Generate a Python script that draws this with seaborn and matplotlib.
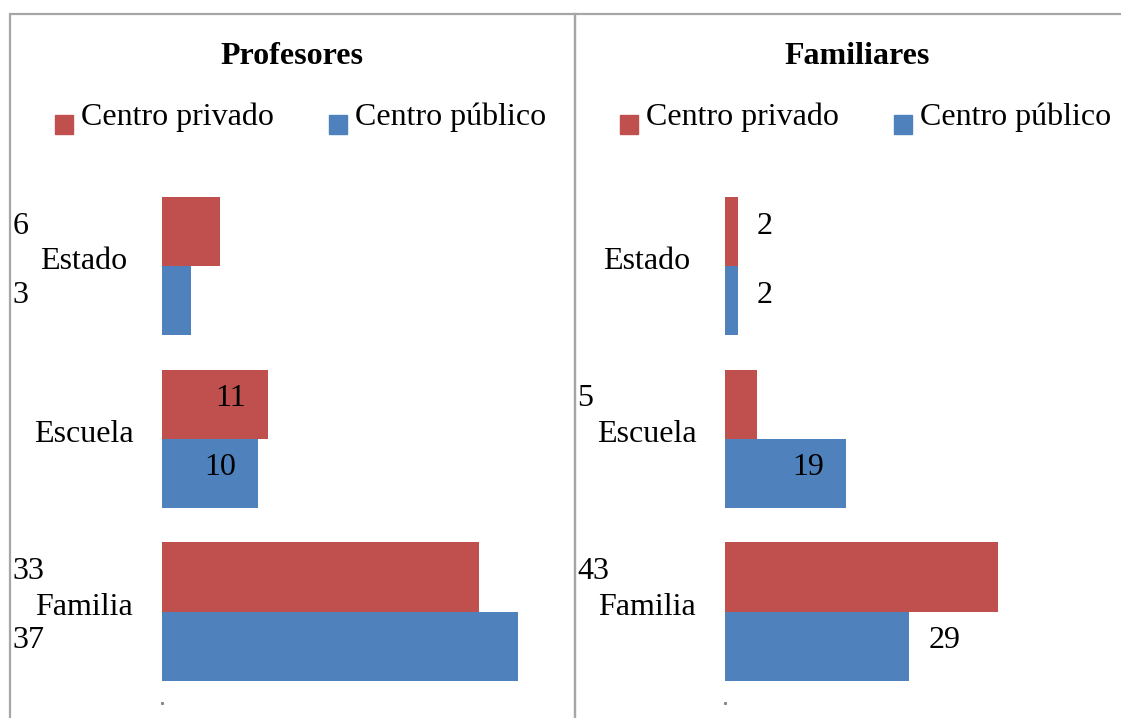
import matplotlib
matplotlib.use("Agg")
import matplotlib.pyplot as plt
from matplotlib.patches import Rectangle
from matplotlib.legend_handler import HandlerPatch
import pandas as pd
import seaborn as sns

CATEGORIES = ["Estado", "Escuela", "Familia"]
SERIES = ["Centro privado", "Centro público"]
PROF_PRIVADO = [6, 11, 33]
PROF_PUBLICO = [3, 10, 37]
FAM_PRIVADO = [2, 5, 43]
FAM_PUBLICO = [2, 19, 29]
TITLES = ["Profesores", "Familiares"]

# where each data label sits: at the panel edge, inside the bar end, or past it
PROF_LABELS = [["edge", "in", "edge"], ["edge", "in", "edge"]]
FAM_LABELS = [["out", "edge", "edge"], ["out", "in", "out"]]

COLORS = {"Centro privado": "#C0504D", "Centro público": "#4F81BD"}

sns.set_theme(style="white")
plt.rcParams["font.family"] = ["Liberation Serif", "DejaVu Serif"]
plt.rcParams["text.color"] = "black"

W, H = 1121, 718
FS = 23


def make_df(privado, publico):
    return pd.DataFrame({
        "Ámbito": CATEGORIES * 2,
        "Centro": [SERIES[0]] * 3 + [SERIES[1]] * 3,
        "Valor": privado + publico,
    })


def low_square(legend, orig_handle, xdescent, ydescent, width, height, fontsize):
    return Rectangle((-xdescent, -ydescent - 0.55 * height), width, height)


fig = plt.figure(figsize=(W / 100, H / 100), dpi=100)

panels = [
    dict(df=make_df(PROF_PRIVADO, PROF_PUBLICO), labels=PROF_LABELS,
         left=10, origin=162, scale=9.62, xmax=40),
    dict(df=make_df(FAM_PRIVADO, FAM_PUBLICO), labels=FAM_LABELS,
         left=575, origin=725, scale=6.35, xmax=60),
]

top_px, bottom_px = 180, 703
for p, title in zip(panels, TITLES):
    # panel frame
    fig.add_artist(Rectangle((p["left"] / W, -0.1), 565 / W, (H - 14) / H + 0.1,
                             transform=fig.transFigure, fill=False,
                             ec="#A6A6A6", lw=1.6))
    ax = fig.add_axes([p["origin"] / W, (H - bottom_px) / H,
                       p["xmax"] * p["scale"] / W, (bottom_px - top_px) / H])
    sns.barplot(data=p["df"], y="Ámbito", x="Valor", hue="Centro",
                hue_order=SERIES, order=CATEGORIES, palette=COLORS,
                saturation=1, linewidth=0, orient="h", width=0.8,
                legend=False, ax=ax)
    ax.set_xlim(0, p["xmax"])
    ax.set_ylim(2.53, -0.5)
    ax.set_xticks([])
    ax.set_yticks([])
    ax.set_xlabel("")
    ax.set_ylabel("")
    for s in ax.spines.values():
        s.set_visible(False)
    # small mark where the value axis starts
    ax.plot([0], [2.53], marker="s", ms=1.2, color="#888888", clip_on=False)

    # category labels left of the bars
    for i, cat in enumerate(CATEGORIES):
        ax.annotate(cat, xy=(0, i), xytext=(-78, -3), textcoords="offset pixels",
                    ha="center", va="baseline", fontsize=FS, annotation_clip=False)

    # data labels
    for j, cont in enumerate(ax.containers):
        for i, bar in enumerate(cont.patches):
            val = bar.get_width()
            yc = bar.get_y() + bar.get_height() / 2
            kind = p["labels"][j][i]
            txt = f"{val:.0f}"
            if kind == "edge":
                ax.annotate(txt, xy=(p["left"] + 2.5, yc),
                            xycoords=("figure pixels", "data"),
                            xytext=(0, -2), textcoords="offset pixels",
                            ha="left", va="baseline", fontsize=FS,
                            annotation_clip=False)
            elif kind == "in":
                ax.annotate(txt, xy=(val, yc), xytext=(-22, -2),
                            textcoords="offset pixels", ha="right",
                            va="baseline", fontsize=FS, annotation_clip=False)
            else:
                ax.annotate(txt, xy=(val, yc), xytext=(19, -2),
                            textcoords="offset pixels", ha="left",
                            va="baseline", fontsize=FS, annotation_clip=False)

    # title
    fig.text((p["left"] + 282) / W, (H - 64) / H, title, ha="center",
             va="baseline", fontsize=FS, fontweight="bold")

    # legend
    handles = [Rectangle((0, 0), 1, 1, color=COLORS[s]) for s in SERIES]
    fig.legend(handles, SERIES, ncol=2, frameon=False, loc="upper left",
               bbox_to_anchor=((p["left"] + 45) / W, (H - 103) / H),
               bbox_transform=fig.transFigure, fontsize=FS,
               borderpad=0, borderaxespad=0, handlelength=0.55,
               handleheight=0.55, handletextpad=0.25, columnspacing=1.75,
               handler_map={Rectangle: HandlerPatch(patch_func=low_square)})

fig.savefig("out.png", dpi=100)
